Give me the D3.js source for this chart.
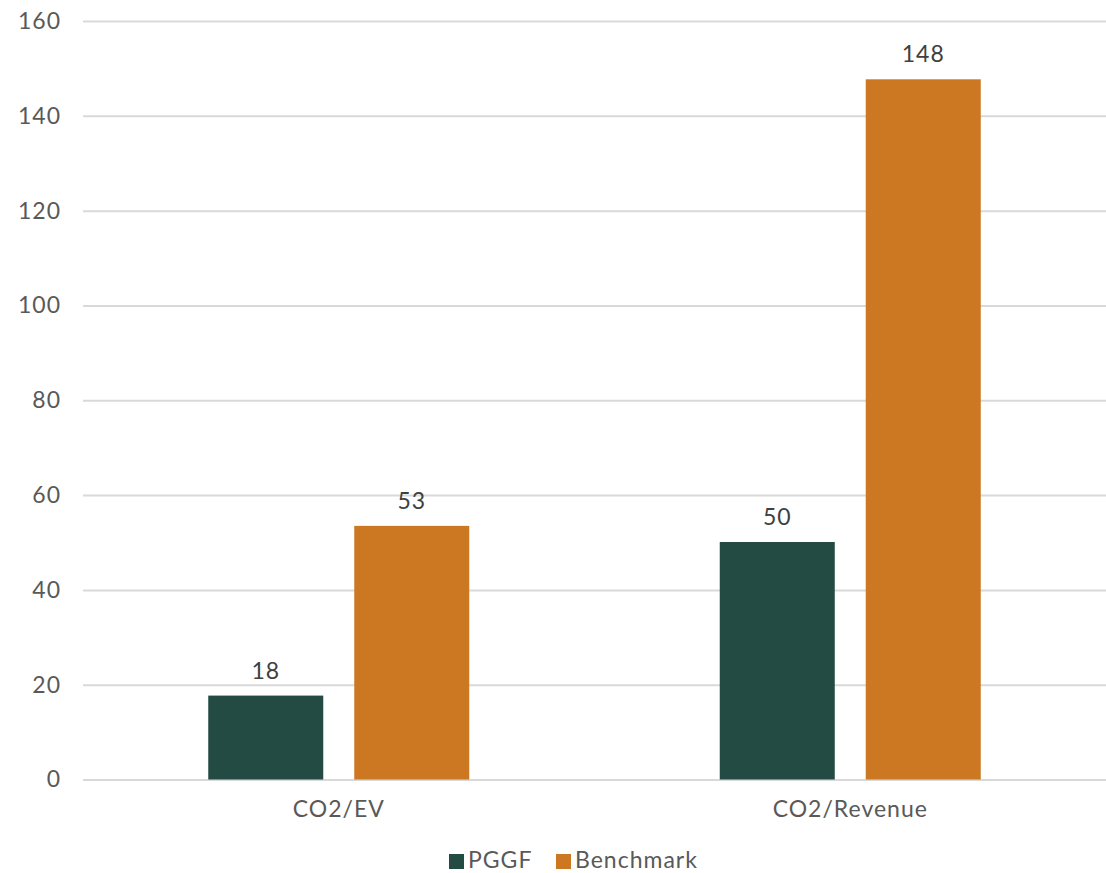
<!DOCTYPE html>
<html>
<head>
<meta charset="utf-8">
<script src="https://cdn.jsdelivr.net/npm/d3@7"></script>
<style>
  html, body { margin: 0; padding: 0; background: #fff; }
  svg { display: block; font-family: Lato, "Open Sans", sans-serif; }
</style>
</head>
<body>
<svg id="chart" width="1106" height="873"></svg>
<script>
const categories = ["CO2/EV", "CO2/Revenue"];
const seriesNames = ["PGGF", "Benchmark"];
const pggfValues = [17.7, 50.1];
const benchmarkValues = [53.5, 147.7];
const valueLabels = [["18", "53"], ["50", "148"]];
const yTicks = [0, 20, 40, 60, 80, 100, 120, 140, 160];
const colors = ["#234B43", "#CC7722"];

const FONT = "Lato, 'Open Sans', sans-serif";
const FS = "23px";
const LS = "1px";
const svg = d3.select("#chart");
const margin = { left: 83, right: 0, top: 21, bottom: 94 };
const W = 1106, H = 873;
const x0 = d3.scaleBand().domain(categories).range([margin.left, W - margin.right]).paddingInner(0).paddingOuter(0);
const y = d3.scaleLinear().domain([0, 160]).range([779.5, margin.top]);

const groupW = 261;
const x1 = d3.scaleBand().domain(seriesNames)
  .range([x0.bandwidth() / 2 - groupW / 2, x0.bandwidth() / 2 + groupW / 2])
  .paddingInner(0.2123).paddingOuter(0);

function styleText(sel, fill) {
  sel.attr("fill", fill).style("font-size", FS).style("letter-spacing", LS).attr("font-family", FONT);
}

// gridlines
const yAxis = d3.axisLeft(y).tickValues(yTicks).tickSize(-(W - margin.left - margin.right)).tickPadding(22);
const gy = svg.append("g").attr("transform", `translate(${margin.left},0)`).call(yAxis);
gy.select(".domain").remove();
gy.selectAll(".tick line").attr("stroke", "#d9d9d9").attr("stroke-width", 2);
styleText(gy.selectAll(".tick text"), "#595959");

const data = categories.map((c, i) => ({ cat: c, vals: [pggfValues[i], benchmarkValues[i]], labels: valueLabels[i] }));

const groups = svg.append("g").selectAll("g").data(data).join("g")
  .attr("transform", d => `translate(${x0(d.cat)},0)`);

groups.selectAll("rect").data(d => d.vals.map((v, j) => ({ v, s: seriesNames[j], j })))
  .join("rect")
  .attr("x", d => x1(d.s))
  .attr("width", x1.bandwidth())
  .attr("y", d => y(d.v))
  .attr("height", d => y(0) - y(d.v))
  .attr("fill", d => colors[d.j]);

const vl = groups.selectAll("text.val").data(d => d.vals.map((v, j) => ({ v, s: seriesNames[j], j, label: d.labels[j] })))
  .join("text").attr("class", "val")
  .attr("x", d => x1(d.s) + x1.bandwidth() / 2)
  .attr("y", d => y(d.v) - 17)
  .attr("text-anchor", "middle")
  .text(d => d.label);
styleText(vl, "#404040");

// x axis labels
const xAxis = d3.axisBottom(x0).tickSize(0).tickPadding(21);
const gx = svg.append("g").attr("transform", `translate(0,${y(0)})`).call(xAxis);
gx.select(".domain").remove();
styleText(gx.selectAll(".tick text"), "#595959");

// legend
const legendItems = [
  { name: seriesNames[0], color: colors[0], x: 449 },
  { name: seriesNames[1], color: colors[1], x: 556 }
];
const lg = svg.append("g");
legendItems.forEach(it => {
  lg.append("rect").attr("x", it.x).attr("y", 854).attr("width", 15).attr("height", 15).attr("fill", it.color);
  styleText(lg.append("text").attr("x", it.x + 19).attr("y", 868).text(it.name), "#595959");
});
</script>
</body>
</html>
